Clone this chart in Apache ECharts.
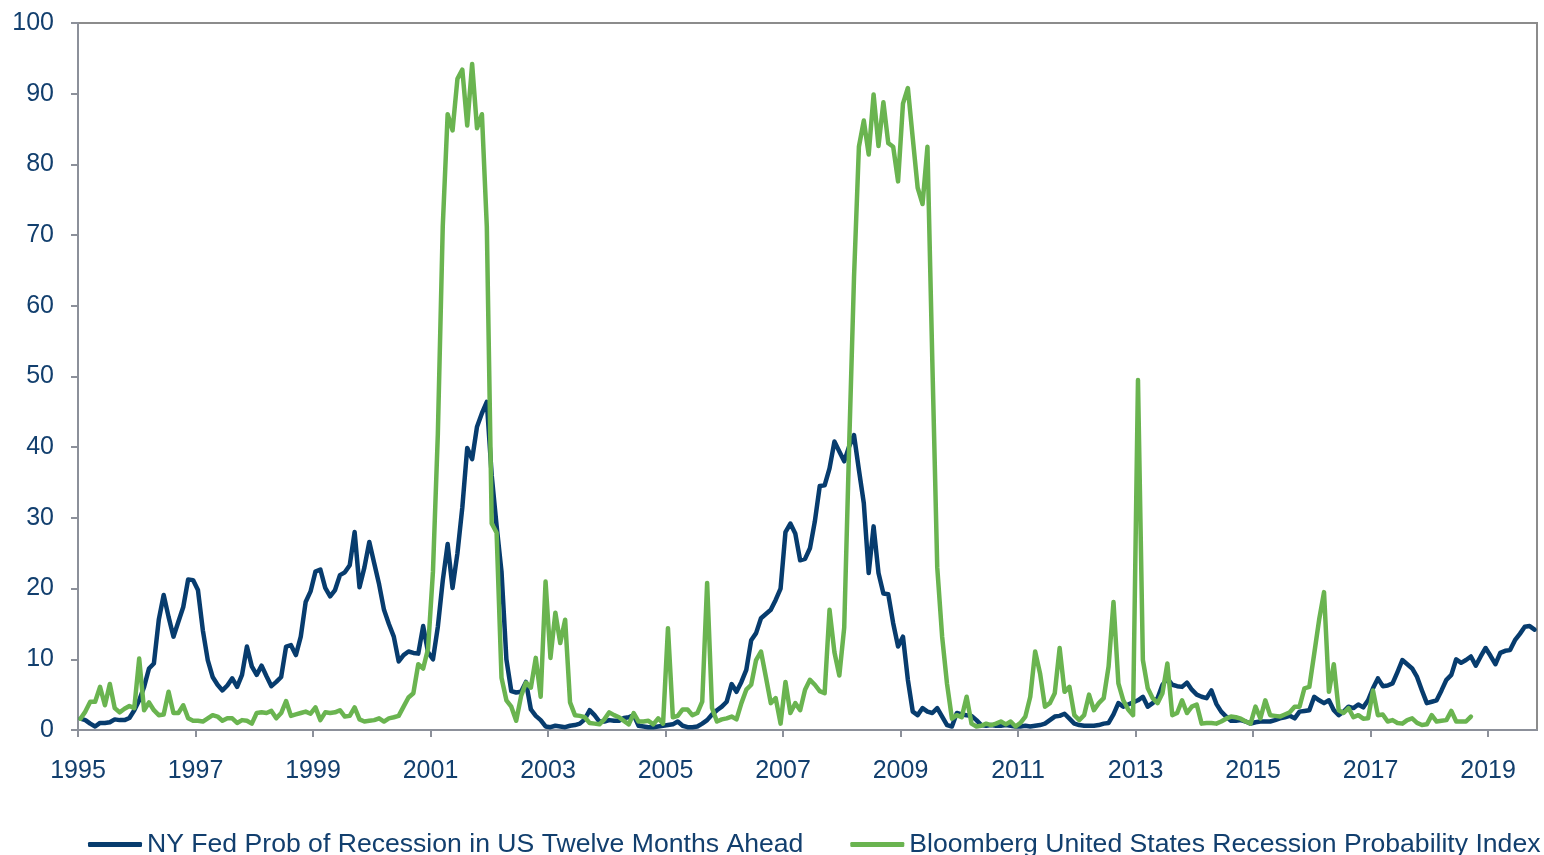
<!DOCTYPE html>
<html>
<head>
<meta charset="utf-8">
<script src="https://cdn.jsdelivr.net/npm/echarts@6/dist/echarts.min.js"></script>
<style>
  html, body { margin: 0; padding: 0; background: #fff; }
  #chart { width: 1544px; height: 855px; }
</style>
</head>
<body>
<div id="chart"></div>
<script>
// monthly series, first value = Jan 1995
var startYear = 1995;
var tickYears = [1995, 1997, 1999, 2001, 2003, 2005, 2007, 2009, 2011, 2013, 2015, 2017, 2019];
var seriesNames = ['NY Fed Prob of Recession in US Twelve Months Ahead', 'Bloomberg United States Recession Probability Index'];

var nyFed = [
  1.6, 1.4, 0.9, 0.5, 1.0, 1.0, 1.1, 1.5, 1.4, 1.4, 1.7, 2.8,        // 1995
  4.2, 6.1, 8.7, 9.4, 15.6, 19.1, 16.0, 13.2, 15.3, 17.4, 21.3, 21.2, // 1996
  19.8, 14.1, 9.9, 7.5, 6.4, 5.6, 6.3, 7.3, 6.1, 7.8, 11.8, 9.0,     // 1997
  7.8, 9.1, 7.6, 6.2, 6.8, 7.5, 11.8, 12.0, 10.6, 13.2, 18.1, 19.6,  // 1998
  22.4, 22.7, 20.1, 18.9, 19.8, 21.9, 22.3, 23.3, 28.0, 20.2, 23.0, 26.6, // 1999
  23.6, 20.6, 17.0, 15.0, 13.2, 9.7, 10.6, 11.1, 10.9, 10.8, 14.7, 11.0,  // 2000
  10.0, 14.6, 21.1, 26.3, 20.1, 25.0, 31.5, 39.9, 38.3, 42.9, 44.8, 46.4, // 2001
  36.0, 28.9, 22.4, 10.0, 5.5, 5.3, 5.4, 6.8, 2.9, 2.0, 1.4, 0.5,    // 2002
  0.4, 0.6, 0.5, 0.4, 0.6, 0.7, 0.9, 1.5, 2.8, 2.1, 1.2, 1.2,        // 2003
  1.4, 1.3, 1.3, 1.7, 1.8, 2.1, 0.6, 0.5, 0.4, 0.4, 0.5, 0.6,        // 2004
  0.7, 0.8, 1.2, 0.6, 0.4, 0.4, 0.5, 0.9, 1.4, 2.2, 2.8, 3.3,        // 2005
  4.0, 6.5, 5.4, 6.8, 8.5, 12.7, 13.7, 15.8, 16.4, 17.0, 18.4, 20.0, // 2006
  28.0, 29.2, 27.8, 24.0, 24.2, 25.7, 29.5, 34.5, 34.6, 37.0, 40.8, 39.4, // 2007
  38.0, 40.1, 41.7, 36.8, 32.1, 22.2, 28.8, 22.2, 19.3, 19.2, 15.1, 11.8, // 2008
  13.2, 7.1, 2.6, 2.1, 3.1, 2.6, 2.4, 3.1, 1.9, 0.7, 0.5, 2.4,       // 2009
  2.2, 2.1, 2.0, 1.4, 0.7, 0.6, 0.7, 0.6, 0.6, 0.7, 0.6, 0.5,        // 2010
  0.5, 0.6, 0.5, 0.6, 0.7, 0.9, 1.4, 1.9, 2.0, 2.3, 1.6, 0.9,        // 2011
  0.7, 0.6, 0.6, 0.6, 0.7, 0.9, 1.0, 2.2, 3.8, 3.3, 3.6, 3.9,        // 2012
  4.2, 4.7, 3.3, 3.8, 4.5, 6.4, 7.3, 6.4, 6.2, 6.1, 6.7, 5.7,        // 2013
  5.0, 4.7, 4.5, 5.6, 3.7, 2.6, 1.9, 1.3, 1.3, 1.4, 1.2, 0.9,        // 2014
  1.1, 1.2, 1.2, 1.2, 1.4, 1.65, 1.8, 2.0, 1.65, 2.6, 2.7, 2.8,      // 2015
  4.7, 4.2, 3.8, 4.2, 2.8, 2.1, 2.6, 3.3, 3.1, 3.6, 3.2, 4.2,        // 2016
  5.9, 7.3, 6.2, 6.3, 6.6, 8.2, 9.9, 9.3, 8.7, 7.5, 5.6, 3.8,        // 2017
  4.0, 4.2, 5.6, 7.1, 7.8, 10.0, 9.5, 9.9, 10.4, 9.1, 10.4, 11.6,    // 2018
  10.5, 9.3, 10.9, 11.2, 11.3, 12.7, 13.6, 14.6, 14.7, 14.2          // 2019
];

var bloomberg = [
  1.6, 2.6, 4.0, 4.0, 6.1, 3.5, 6.5, 3.1, 2.5, 3.0, 3.4, 3.1,        // 1995
  10.1, 2.8, 3.9, 2.8, 2.1, 2.2, 5.4, 2.4, 2.4, 3.5, 1.65, 1.3,      // 1996
  1.3, 1.2, 1.65, 2.1, 1.9, 1.3, 1.65, 1.65, 1.0, 1.4, 1.3, 0.9,     // 1997
  2.4, 2.5, 2.4, 2.7, 1.65, 2.4, 4.1, 2.0, 2.2, 2.4, 2.6, 2.3,       // 1998
  3.2, 1.4, 2.5, 2.4, 2.5, 2.8, 1.9, 2.0, 3.2, 1.5, 1.2, 1.3,        // 1999
  1.4, 1.65, 1.2, 1.65, 1.8, 2.0, 3.3, 4.6, 5.2, 9.3, 8.7, 11.5,     // 2000
  22.4, 41.9, 71.2, 87.1, 84.8, 92.1, 93.4, 85.5, 94.2, 85.1, 87.1, 71.2, // 2001
  29.2, 27.9, 7.4, 4.2, 3.3, 1.3, 4.8, 6.7, 6.0, 10.2, 4.7, 21.0,    // 2002
  10.2, 16.6, 12.3, 15.6, 3.9, 2.1, 2.0, 1.8, 1.0, 0.9, 0.8, 1.5,    // 2003
  2.5, 2.1, 1.8, 1.3, 0.8, 2.4, 1.2, 1.2, 1.3, 0.8, 1.65, 0.9,       // 2004
  14.4, 1.8, 2.0, 2.9, 2.9, 2.1, 2.4, 4.0, 20.8, 3.1, 1.2, 1.5,      // 2005
  1.65, 1.9, 1.5, 3.8, 5.7, 6.4, 9.9, 11.1, 7.5, 3.8, 4.5, 0.9,      // 2006
  6.8, 2.4, 3.8, 2.8, 5.7, 7.1, 6.4, 5.5, 5.2, 17.0, 11.0, 7.7,      // 2007
  14.5, 40.0, 64.0, 82.5, 86.2, 81.4, 89.9, 82.6, 88.8, 83.0, 82.5, 77.6, // 2008
  88.6, 90.8, 83.7, 76.7, 74.4, 82.5, 52.0, 23.0, 13.2, 6.5, 1.6, 2.1,    // 2009
  1.8, 4.7, 0.9, 0.5, 0.6, 0.9, 0.7, 0.9, 1.2, 0.8, 1.2, 0.5,        // 2010
  1.0, 1.9, 4.7, 11.1, 8.0, 3.3, 3.8, 5.2, 11.6, 5.4, 6.1, 2.1,      // 2011
  1.4, 2.1, 5.0, 2.8, 3.8, 4.5, 9.0, 18.1, 6.6, 4.2, 2.9, 2.1,       // 2012
  49.5, 9.9, 5.9, 4.5, 3.8, 5.2, 9.4, 2.1, 2.4, 4.2, 2.4, 3.3,       // 2013
  3.6, 0.9, 1.0, 1.0, 0.9, 1.2, 1.6, 1.9, 1.8, 1.6, 1.2, 0.9,        // 2014
  3.3, 1.65, 4.2, 2.1, 2.0, 1.9, 2.2, 2.5, 3.3, 3.3, 5.9, 6.1,       // 2015
  10.8, 15.6, 19.5, 5.4, 9.3, 2.8, 2.4, 3.1, 1.8, 2.1, 1.6, 1.65,    // 2016
  5.6, 2.1, 2.2, 1.2, 1.4, 1.0, 0.9, 1.4, 1.65, 1.0, 0.7, 0.8,       // 2017
  2.1, 1.2, 1.3, 1.4, 2.7, 1.2, 1.2, 1.2, 1.9                        // 2018
];

var navy = '#073c6e';
var green = '#6ab450';
var textColor = '#123f6e';
var axisGray = '#8c909a';

// x axis counts months since Jan 1995, each reading sits mid-month
function toPoints(values) {
  return values.map(function (v, i) { return [i + 0.5, v]; });
}
var monthTicks = tickYears.map(function (y) { return (y - startYear) * 12; });

var chart = echarts.init(document.getElementById('chart'));

var option = {
  animation: false,
  grid: {
    left: 78, right: 7, top: 23, bottom: 125,
    show: true, borderColor: '#8c8c8c', borderWidth: 2
  },
  legend: {
    left: 88,
    top: 831,
    width: 1480,
    padding: 0,
    itemWidth: 54,
    itemHeight: 5,
    itemGap: 47,
    icon: 'roundRect',
    textStyle: { fontFamily: 'Liberation Sans, Arial', fontSize: 26.6, color: textColor },
    data: seriesNames
  },
  xAxis: {
    type: 'value',
    min: 0,
    max: 298,
    splitLine: { show: false },
    axisLine: { lineStyle: { color: axisGray, width: 2 } },
    axisTick: { show: true, length: 7, customValues: monthTicks, lineStyle: { color: axisGray, width: 2 } },
    axisLabel: {
      customValues: monthTicks,
      margin: 29,
      fontFamily: 'Liberation Sans, Arial',
      fontSize: 25,
      color: textColor,
      formatter: function (v) { return String(startYear + v / 12); }
    }
  },
  yAxis: {
    type: 'value',
    min: 0,
    max: 100,
    interval: 10,
    splitLine: { show: false },
    axisLine: { show: true, lineStyle: { color: axisGray, width: 2 } },
    axisTick: { show: true, length: 7, lineStyle: { color: axisGray, width: 2 } },
    axisLabel: {
      margin: 24,
      fontFamily: 'Liberation Sans, Arial',
      fontSize: 25,
      color: textColor
    }
  },
  series: [
    {
      name: seriesNames[0],
      type: 'line',
      data: toPoints(nyFed),
      showSymbol: false,
      symbol: 'none',
      color: navy,
      lineStyle: { width: 4.5, color: navy, join: 'round', cap: 'round' },
      emphasis: { disabled: true }
    },
    {
      name: seriesNames[1],
      type: 'line',
      data: toPoints(bloomberg),
      showSymbol: false,
      symbol: 'none',
      color: green,
      lineStyle: { width: 4.5, color: green, join: 'round', cap: 'round' },
      emphasis: { disabled: true }
    }
  ]
};

chart.setOption(option);
</script>
</body>
</html>
